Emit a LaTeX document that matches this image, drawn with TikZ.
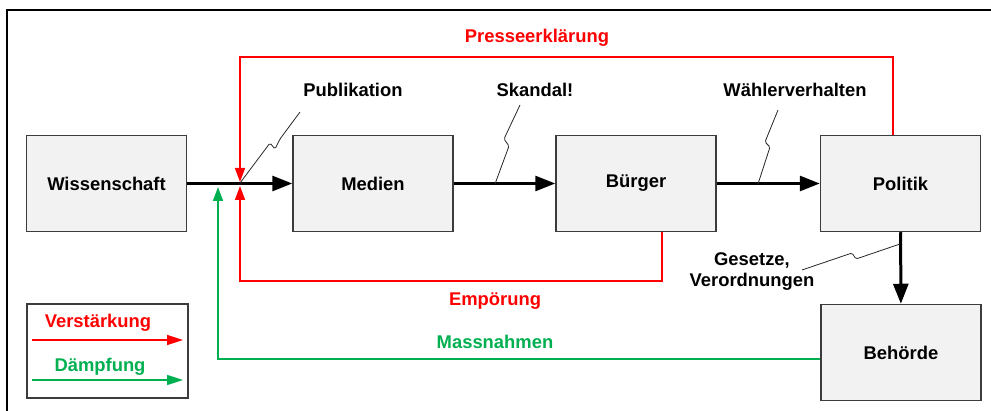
\documentclass[tikz,border=0pt]{standalone}
\usepackage{fontspec}
\setmainfont{Liberation Sans}
\usetikzlibrary{arrows.meta}
\definecolor{pressred}{RGB}{255,0,0}
\definecolor{calmgreen}{RGB}{0,176,80}
\definecolor{boxgray}{RGB}{242,242,242}
\definecolor{boxline}{RGB}{60,60,60}

\begin{document}
\begin{tikzpicture}[
                  x = 1pt,
                  y = -1pt,
  every node/.style = {font=\fontsize{18.4}{21}\selectfont\bfseries},
         stage/.style = {draw=boxline, line width=1.5pt, fill=boxgray,
                         minimum width=160pt, minimum height=96pt, inner sep=0pt},
          flow/.style = {draw, line width=3pt, -{Triangle[length=20pt,width=15pt]}},
     feedred/.style = {draw=pressred, line width=1.6pt, -{Triangle[length=14pt,width=10pt]}},
   feedgreen/.style = {draw=calmgreen, line width=1.6pt, -{Triangle[length=14pt,width=10pt]}},
     callout/.style = {draw=black!85, line width=0.8pt, rounded corners=1.5pt},
                     ]
\useasboundingbox (0,0) rectangle (991,411);
% frame
\draw[line width=1.5pt] (7,411) -- (7,10) -- (991,10);

% stages
\node[stage] (wiss)     at (106.5,183.5) {Wissenschaft};
\node[stage] (medien)   at (373,183.5)   {Medien};
\node[stage] (buerger)  at (636,183.5)   {Bürger};
\node[stage] (politik)  at (900.5,183.5) {Politik};
\node[stage] (behoerde) at (901,352.5)   {Behörde};

\draw[flow] (wiss) -- (medien);
\draw[flow] (medien) -- (buerger);
\draw[flow] (buerger) -- (politik);
\draw[flow] (politik) -- (behoerde);

% where the loops come back
\coordinate (jtop)   at (240,182);
\coordinate (jbot)   at (240,186);
\coordinate (jgreen) at (218,187);

\draw[feedred] ([xshift=-7.5pt]politik.north) -- ++(0,-78) -| (jtop);
\draw[feedred] ([xshift=26pt]buerger.south) -- ++(0,49) -| (jbot);
\draw[feedgreen] ([yshift=-6.5pt]behoerde.west) -| (jgreen);

\node[text=pressred]  (presse)   at (537,38)  {Presseerklärung};
\node[text=pressred]  (empoer)   at (495,301) {Empörung};
\node[text=calmgreen] (massn)    at (495,342) {Massnahmen};

% callouts
\node (publik)  at (353,90) {Publikation};
\node (skandal) at (535,90) {Skandal!};
\node (waehler) at (795,90) {Wählerverhalten};
\node[align=center] (gesetze) at (752,272) {Gesetze,\\Verordnungen};

\coordinate (publikend)  at (240,183);
\coordinate (skandalend) at (495,184);
\coordinate (waehlerend) at (758,184);
\coordinate (gesetzeend) at (900,244);

\draw[callout] (300,112) -- (280,139) -- (275,149) -- (270,143) -- (publikend);
\draw[callout] (520,105) -- (504,139) -- (509,146) -- (skandalend);
\draw[callout] (778,110) -- (765,142) -- (770,147) -- (waehlerend);
\draw[callout] (802,270) -- (852,253) -- (856,259) -- (gesetzeend);

% legend
\node[draw=boxline, line width=1.5pt, minimum width=161pt, minimum height=94pt,
      inner sep=0pt] (legend) at (107.5,351) {};
\node[text=pressred]  (verst) at (98,323)  {Verstärkung};
\node[text=calmgreen] (daempf) at (100,367) {Dämpfung};
\coordinate (vstart) at (32,340);
\coordinate (vend)   at (183,340);
\coordinate (dstart) at (32,380);
\coordinate (dend)   at (183,380);
\draw[feedred, -{Triangle[length=16pt,width=10pt]}] (vstart) -- (vend);
\draw[feedgreen, -{Triangle[length=16pt,width=10pt]}] (dstart) -- (dend);
\end{tikzpicture}
\end{document}
